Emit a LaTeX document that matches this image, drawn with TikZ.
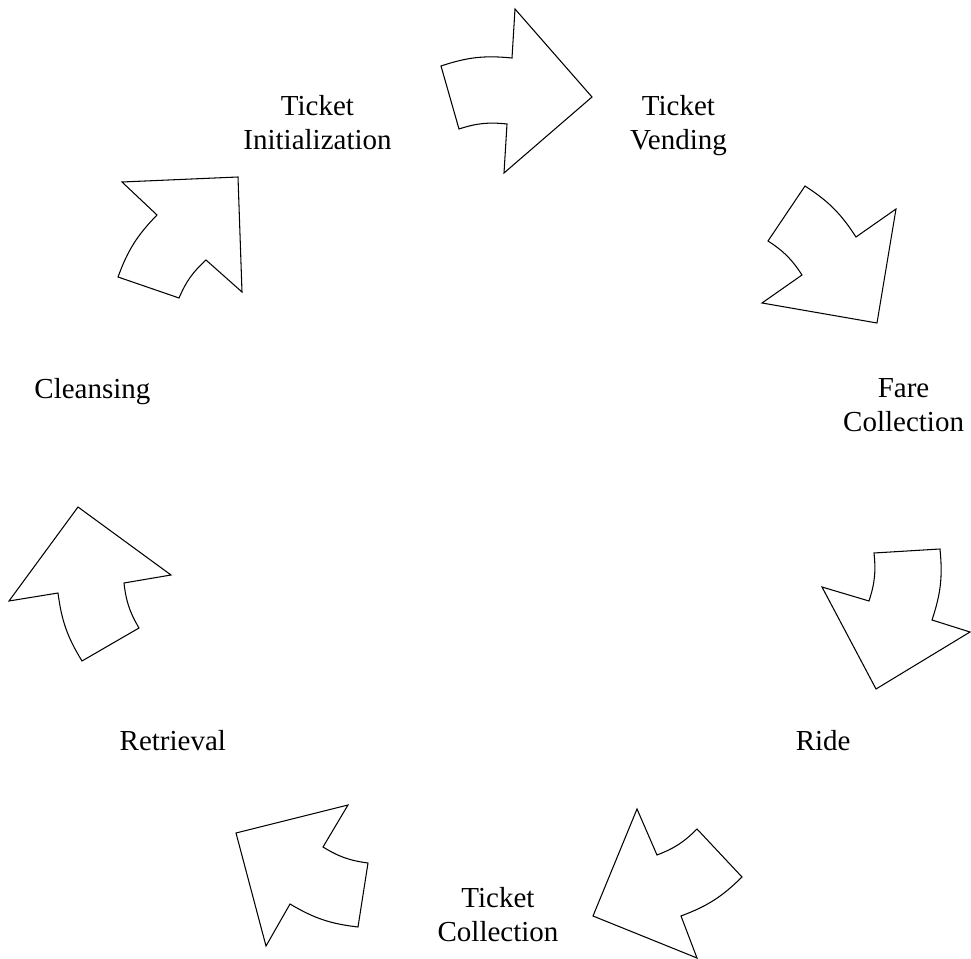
\documentclass[tikz,border=0pt]{standalone}
\usepackage{fontspec}
\setmainfont{Liberation Serif}
\tikzset{
  stage/.style={align=center, anchor=north, inner sep=0pt, font=\fontsize{16.5}{19.4}\selectfont},
  blockarrow/.style={draw=black, line width=0.6pt, line join=miter, fill=white},
}
\begin{document}
\begin{tikzpicture}[x=0.02cm, y=0.02cm]
  \useasboundingbox (0,0) rectangle (971,-959);
  % Stage labels (top of first line)
  \node[stage] (init)  at (317.5,-95.2) {Ticket\\Initialization};
  \node[stage] (vend)  at (678.5,-95.2) {Ticket\\Vending};
  \node[stage] (fare)  at (903.6,-377.8) {Fare\\Collection};
  \node[stage] (ride)  at (823.2,-730)   {Ride};
  \node[stage] (coll)  at (498,-886.8)   {Ticket\\Collection};
  \node[stage] (retr)  at (172.8,-730)   {Retrieval};
  \node[stage] (clean) at (92.4,-377.8)  {Cleansing};
  % Curved block arrows
  % Initialization -> Vending
  \draw[blockarrow] (441,-66) to[bend left=12] (512,-58) -- (515,-9) -- (592,-97)
    -- (504,-173) -- (507,-124) to[bend right=12] (459,-129) -- cycle;
  % Vending -> Fare Collection
  \draw[blockarrow] (805,-186) to[bend left=12] (856,-237) -- (896,-209) -- (877,-323)
    -- (762,-303) -- (802,-275) to[bend right=12] (768,-241) -- cycle;
  % Fare Collection -> Ride
  \draw[blockarrow] (940,-549) to[bend left=12] (932,-620) -- (970,-632) -- (876,-689)
    -- (822,-587) -- (869,-601) to[bend right=12] (874,-553) -- cycle;
  % Ride -> Ticket Collection
  \draw[blockarrow] (742,-877) to[bend left=12] (681,-916) -- (697,-958) -- (593,-916)
    -- (637,-809) -- (657,-855) to[bend right=12] (697,-829) -- cycle;
  % Ticket Collection -> Retrieval
  \draw[blockarrow] (358,-927) to[bend left=12] (290,-904) -- (266,-946) -- (236,-833)
    -- (348,-805) -- (323,-847) to[bend right=12] (368,-863) -- cycle;
  % Retrieval -> Cleansing
  \draw[blockarrow] (82,-661) to[bend left=12] (58,-593) -- (9,-601) -- (78,-507)
    -- (171,-575) -- (124,-583) to[bend right=12] (139,-628) -- cycle;
  % Cleansing -> Initialization
  \draw[blockarrow] (118,-277) to[bend left=12] (157,-215) -- (122,-182) -- (238,-177)
    -- (242,-292) -- (206,-260) to[bend right=12] (179,-298) -- cycle;
\end{tikzpicture}
\end{document}
